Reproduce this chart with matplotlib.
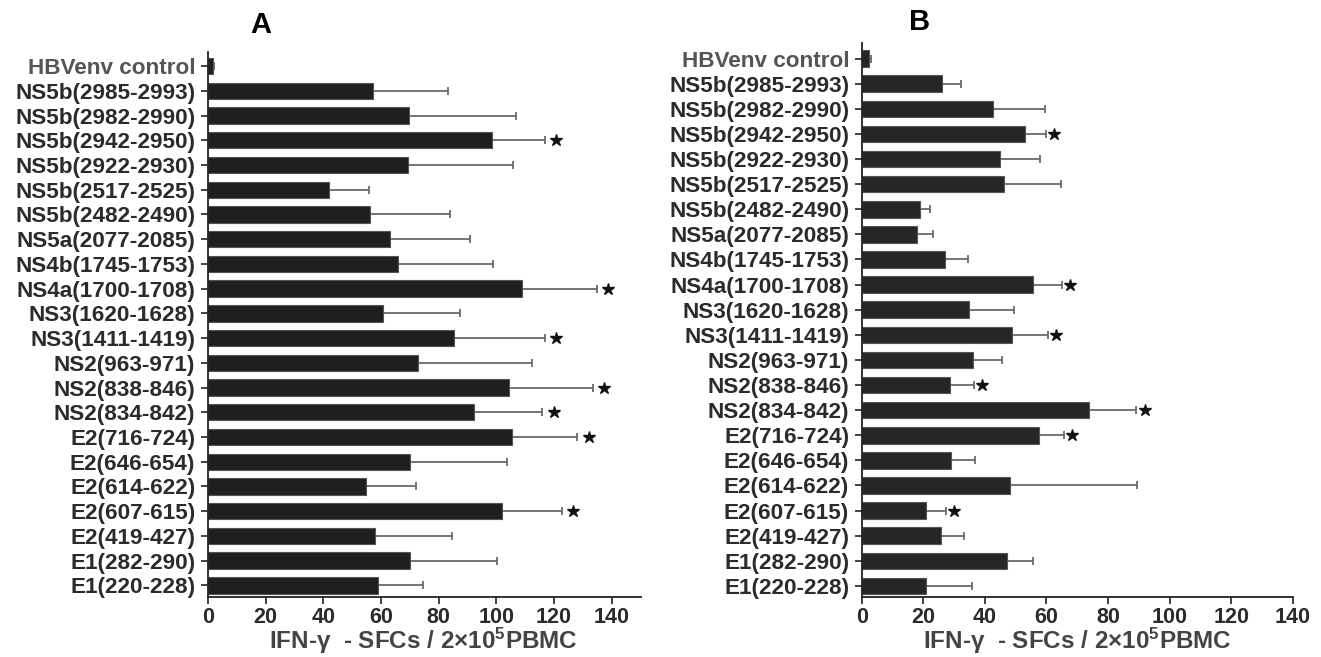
import matplotlib
matplotlib.use("Agg")
import matplotlib.pyplot as plt
import numpy as np

plt.rcParams['font.family'] = ['Liberation Sans', 'DejaVu Sans']
plt.rcParams['font.weight'] = 'bold'
plt.rcParams['mathtext.fontset'] = 'custom'
plt.rcParams['mathtext.rm'] = 'Liberation Sans:bold'
plt.rcParams['mathtext.it'] = 'Liberation Sans:bold'
plt.rcParams['mathtext.bf'] = 'Liberation Sans:bold'
plt.rcParams['mathtext.default'] = 'rm'

# categories, top to bottom
categories = ["HBVenv control", "NS5b(2985-2993)", "NS5b(2982-2990)", "NS5b(2942-2950)",
              "NS5b(2922-2930)", "NS5b(2517-2525)", "NS5b(2482-2490)", "NS5a(2077-2085)",
              "NS4b(1745-1753)", "NS4a(1700-1708)", "NS3(1620-1628)", "NS3(1411-1419)",
              "NS2(963-971)", "NS2(838-846)", "NS2(834-842)", "E2(716-724)",
              "E2(646-654)", "E2(614-622)", "E2(607-615)", "E2(419-427)",
              "E1(282-290)", "E1(220-228)"]

# Panel A: mean values and upper error (absolute end of error bar)
a_values = [1.8, 57.1, 69.7, 98.4, 69.5, 41.9, 56.3, 63.0, 66.0, 108.8, 60.8, 85.3,
            72.7, 104.5, 92.2, 105.3, 70.0, 54.8, 101.8, 57.8, 70.0, 59.0]
a_err_top = [2.2, 83.1, 106.7, 116.8, 105.9, 55.7, 83.9, 90.9, 98.9, 134.7, 87.4, 116.8,
             112.4, 133.4, 115.9, 128.0, 103.8, 72.2, 122.6, 84.5, 100.2, 74.7]
a_star = [False, False, False, True, False, False, False, False, False, True, False, True,
          False, True, True, True, False, False, True, False, False, False]

# Panel B
b_values = [2.5, 26.1, 42.7, 53.0, 44.8, 46.1, 18.9, 18.0, 27.0, 55.7, 34.9, 48.9,
            36.3, 28.7, 73.9, 57.5, 29.0, 48.3, 20.8, 25.6, 47.2, 20.8]
b_err_top = [3.0, 32.2, 59.4, 59.8, 57.8, 64.8, 22.1, 23.1, 34.4, 65.1, 49.5, 60.5,
             45.5, 36.5, 89.2, 65.7, 36.8, 89.4, 27.4, 33.2, 55.7, 35.9]
b_star = [False, False, False, True, False, False, False, False, False, True, False, True,
          False, True, True, True, False, False, True, False, False, False]

xticks_vals = [0, 20, 40, 60, 80, 100, 120, 140]
xlabel = 'IFN-γ  - SFCs / 2×10$^{5}$PBMC'

W, H = 1321, 657
fig = plt.figure(figsize=(W / 100, H / 100), dpi=100)


def px_axes(left, right, top, bottom):
    return fig.add_axes([left / W, 1 - bottom / H, (right - left) / W, (bottom - top) / H])


def draw(ax, values, errtop, stars, xmax, ylo, yhi, star_off, title, title_xy, barcolor,
         xlabel_x):
    n = len(categories)
    y = np.arange(n)[::-1]
    vals = np.array(values)
    err = np.array(errtop) - vals
    ax.barh(y, vals, height=0.66, color=barcolor, edgecolor='#555555', linewidth=0.8, zorder=2)
    ax.errorbar(vals, y, xerr=[np.zeros(n), err], fmt='none', ecolor='#6a6a6a',
                elinewidth=1.3, capsize=3, capthick=1.3, zorder=1)
    for yi, e, s in zip(y, errtop, stars):
        if s:
            ax.plot(e + star_off, yi, marker='*', color='#111111', markersize=9,
                    linestyle='none', zorder=3)
    ax.set_xlim(0, xmax)
    ax.set_ylim(ylo, yhi)
    ax.set_yticks(y)
    ax.set_yticklabels(categories, fontsize=16.2, fontweight='bold', color='#2b2b2b')
    ax.get_yticklabels()[0].set_color('#555555')
    ax.set_xticks(xticks_vals)
    ax.set_xticklabels([str(v) for v in xticks_vals], fontsize=15.5, fontweight='bold',
                       color='#2b2b2b')
    for side in ['top', 'right']:
        ax.spines[side].set_visible(False)
    for side in ['left', 'bottom']:
        ax.spines[side].set_linewidth(1.3)
        ax.spines[side].set_color('#222222')
    ax.tick_params(axis='y', length=5, width=1.2, pad=4, color='#222222')
    ax.tick_params(axis='x', length=5, width=1.2, pad=2, color='#222222')
    fig.text(xlabel_x / W, 1 - 641 / H, xlabel, fontsize=17.5, fontweight='bold',
             color='#444444', ha='center', va='center')
    fig.text(title_xy[0] / W, 1 - title_xy[1] / H, title, fontsize=21, fontweight='bold',
             ha='center', va='center', color='black')


axA = px_axes(207.8, 640.7, 52, 597)
draw(axA, a_values, a_err_top, a_star, 150, -0.47, 21.57, 4.0, 'A', (261, 25), '#1f1f1f', 423)

axB = px_axes(861.7, 1292.7, 43, 597)
draw(axB, b_values, b_err_top, b_star, 140, -0.44, 21.62, 2.7, 'B', (920, 22), '#262626', 1077)

fig.savefig('out.png', dpi=100)
